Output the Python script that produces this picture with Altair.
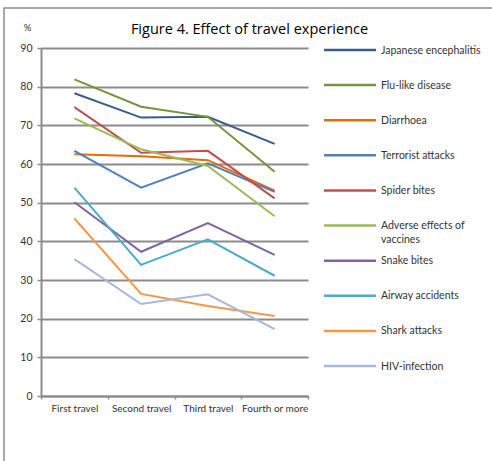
import altair as alt
import pandas as pd

# Travel stages on the x axis
stages = ["First travel", "Second travel", "Third travel", "Fourth or more"]

# Risk items, in legend order
series = [
    "Japanese encephalitis",
    "Flu-like disease",
    "Diarrhoea",
    "Terrorist attacks",
    "Spider bites",
    "Adverse effects of vaccines",
    "Snake bites",
    "Airway accidents",
    "Shark attacks",
    "HIV-infection",
]

# Percentages per stage for each item
japanese_encephalitis = [78.3, 72.0, 72.2, 65.2]
flu_like_disease = [81.9, 74.8, 72.2, 58.0]
diarrhoea = [62.5, 62.0, 61.0, 53.1]
terrorist_attacks = [63.4, 53.9, 60.2, 52.8]
spider_bites = [74.7, 62.9, 63.4, 51.1]
adverse_effects = [71.8, 63.8, 59.5, 46.5]
snake_bites = [50.1, 37.3, 44.7, 36.5]
airway_accidents = [53.9, 33.9, 40.5, 31.1]
shark_attacks = [45.9, 26.4, 23.3, 20.7]
hiv_infection = [35.4, 23.8, 26.3, 17.3]

values = [
    japanese_encephalitis, flu_like_disease, diarrhoea, terrorist_attacks,
    spider_bites, adverse_effects, snake_bites, airway_accidents,
    shark_attacks, hiv_infection,
]

colors = [
    "#385D8A", "#77933C", "#E46C0A", "#4F81BD", "#C0504D",
    "#9BBB59", "#8064A2", "#4BACC6", "#F79646", "#A5B9D9",
]

# Legend labels (one wraps onto two lines)
legend_labels = [s if s != "Adverse effects of vaccines" else "Adverse effects of\nvaccines"
                 for s in series]

FONT = "Lato"
GRAY = "#8C8C8C"
TEXT = "#333333"

rows = []
for name, vals in zip(series, values):
    for stage, v in zip(stages, vals):
        rows.append({"series": name, "stage": stage, "value": v})
df = pd.DataFrame(rows)
legend_df = pd.DataFrame({"series": series, "label": legend_labels})

color = alt.Color("series:N", scale=alt.Scale(domain=series, range=colors), legend=None)

lines = alt.Chart(df).mark_line(strokeWidth=2).encode(
    x=alt.X(
        "stage:N", sort=stages,
        scale=alt.Scale(type="band", paddingInner=0, paddingOuter=0),
        axis=alt.Axis(
            title=None, labelAngle=0, tickBand="extent", grid=False,
            domainColor=GRAY, domainWidth=2, tickColor=GRAY, tickWidth=1.5, tickSize=3,
            labelFont=FONT, labelFontSize=10, labelColor=TEXT, labelPadding=4,
        ),
    ),
    y=alt.Y(
        "value:Q",
        scale=alt.Scale(domain=[0, 90], nice=False, zero=True),
        axis=alt.Axis(
            values=list(range(0, 91, 10)), title="%",
            titleAngle=0, titleX=-14, titleY=-21, titleAlign="center",
            titleBaseline="middle", titleFont=FONT, titleFontSize=9.5,
            titleFontWeight="normal", titleColor=TEXT,
            grid=True, gridColor=GRAY, gridWidth=2,
            domainColor=GRAY, domainWidth=2, tickColor=GRAY, tickWidth=1.5, tickSize=4,
            labelFont=FONT, labelFontSize=10.5, labelColor=TEXT, labelPadding=5,
        ),
    ),
    color=color,
    detail="series:N",
)

legend_y = alt.Y(
    "series:N", sort=series,
    scale=alt.Scale(type="point", domain=series, range=[2, 318], padding=0),
    axis=None,
)

legend_rules = alt.Chart(legend_df).mark_rule(strokeWidth=2.5).encode(
    x=alt.value(283), x2=alt.value(335), y=legend_y, color=color,
)

legend_text = alt.Chart(legend_df).mark_text(
    align="left", baseline="alphabetic", dy=3.5, lineBreak="\n",
    font=FONT, fontSize=10.5, color=TEXT, lineHeight=14,
).encode(x=alt.value(340), y=legend_y, text="label:N")

frame = alt.Chart(alt.Data(values=[{"f": 1}])).mark_rect(
    filled=False, stroke=GRAY, strokeWidth=1.5,
).encode(x=alt.value(-37), x2=alt.value(500), y=alt.value(-40), y2=alt.value(470))

chart = alt.layer(frame, lines, legend_rules, legend_text).resolve_scale(
    y="independent"
).properties(
    width=267,
    height=348,
    autosize=alt.AutoSizeParams(type="none"),
    padding={"left": 41, "top": 48, "right": 184, "bottom": 65},
    title=alt.TitleParams(
        "Figure 4. Effect of travel experience",
        anchor="middle", frame="group", dx=75, dy=58, offset=16.5,
        baseline="alphabetic", font="Open Sans", fontSize=14.5,
        fontWeight="normal", color="#000000",
    ),
).configure_view(strokeWidth=0)

chart.save("out.html", embed_options={"renderer": "svg", "actions": False})
